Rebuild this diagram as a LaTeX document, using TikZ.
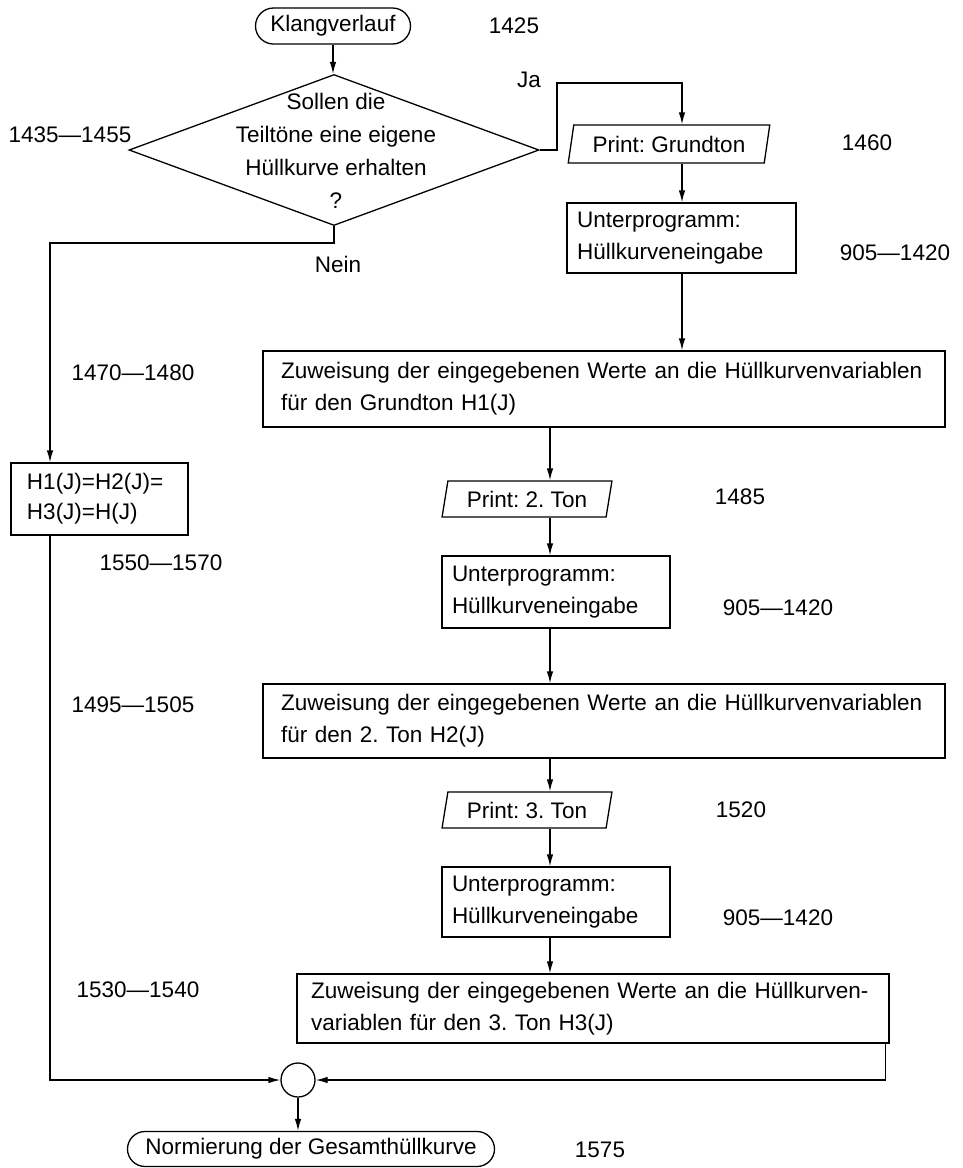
\documentclass[tikz,border=0pt]{standalone}
\usepackage{fontspec}
\setmainfont{Liberation Sans}
\usetikzlibrary{shapes.geometric,shapes.misc,arrows.meta,calc}
\frenchspacing

\begin{document}
\begin{tikzpicture}[x=1pt,y=-1pt,
  every node/.style={font=\fontsize{22.5}{32}\selectfont},
  lw/.style={line width=1.3pt},
  flow/.style={draw, lw, -{Latex[length=12pt,width=6.5pt]}},
  terminal/.style={draw, lw, rounded rectangle, inner sep=0pt},
  decision/.style={draw, lw, diamond, inner sep=0pt},
  iobox/.style={draw, lw, trapezium, trapezium left angle=75, trapezium right angle=105,
    trapezium stretches=true, inner sep=0pt},
  procbox/.style={draw, lw, rectangle, align=left, inner ysep=0pt},
  junction/.style={draw, lw, circle, inner sep=0pt, minimum size=34pt},
  lineno/.style={inner sep=0pt},
]
\useasboundingbox (0,0) rectangle (962,1168);

% column positions of the two vertical flows
\coordinate (colA) at (682,0);
\coordinate (colB) at (550,0);

% start and decision
\node[terminal, minimum width=155pt, minimum height=36pt] (start) at (333,26) {Klangverlauf};
\node[decision, minimum width=410pt, minimum height=151pt] (q) at (334,150) {};
\node[align=center, inner sep=0pt, font=\fontsize{22.5}{33}\selectfont] (qtext) at (336,151)
  {Sollen die\\Teiltöne eine eigene\\Hüllkurve erhalten\\?};

% branch "Ja": three partial tones
\node[iobox, minimum width=202pt, minimum height=38pt] (p1) at (669,144) {Print: Grundton};
\node[procbox, text width=209pt, inner xsep=10pt, minimum height=70pt] (u1) at (681.5,238)
  {Unterprogramm:\\Hüllkurveneingabe};
\node[procbox, text width=646pt, inner xsep=18pt, minimum height=76pt] (z1) at (604,389)
  {Zuweisung der eingegebenen Werte an die Hüllkurvenvariablen\\für den Grundton H1(J)};

\node[iobox, minimum width=170pt, minimum height=36pt] (p2) at (527,499) {Print: 2. Ton};
\node[procbox, text width=208pt, inner xsep=10pt, minimum height=72pt] (u2) at (556,592)
  {Unterprogramm:\\Hüllkurveneingabe};
\node[procbox, text width=646pt, inner xsep=18pt, minimum height=74pt] (z2) at (604,721)
  {Zuweisung der eingegebenen Werte an die Hüllkurvenvariablen\\für den 2. Ton H2(J)};

\node[iobox, minimum width=170pt, minimum height=36pt] (p3) at (527,810) {Print: 3. Ton};
\node[procbox, text width=208pt, inner xsep=10pt, minimum height=70pt] (u3) at (556,902)
  {Unterprogramm:\\Hüllkurveneingabe};
\node[procbox, text width=564pt, inner xsep=14pt, minimum height=69pt] (z3) at (593,1008.5)
  {Zuweisung der eingegebenen Werte an die Hüllkurven-\\variablen für den 3. Ton H3(J)};

% branch "Nein": one common envelope
\node[procbox, text width=145pt, inner xsep=16pt, minimum height=72pt,
  font=\fontsize{22.5}{30}\selectfont] (h) at (99.5,499) {H1(J)=H2(J)=\\H3(J)=H(J)};

% merge and end
\node[junction] (join) at (298,1080) {};
\node[terminal, minimum width=367pt, minimum height=35pt] (end) at (311,1149)
  {Normierung der Gesamthüllkurve};

% program line numbers
\node[lineno] (n1425) at (514,26) {1425};
\node[lineno] (n1435) at (70,135) {1435—1455};
\node[lineno] (n1460) at (867,143) {1460};
\node[lineno] (n905a) at (895,253) {905—1420};
\node[lineno] (n1470) at (133,373) {1470—1480};
\node[lineno] (n1550) at (161,563) {1550—1570};
\node[lineno] (n1485) at (740,497) {1485};
\node[lineno] (n905b) at (778,608) {905—1420};
\node[lineno] (n1495) at (133,705) {1495—1505};
\node[lineno] (n1520) at (741,810) {1520};
\node[lineno] (n905c) at (778,918) {905—1420};
\node[lineno] (n1530) at (138,990) {1530—1540};
\node[lineno] (n1575) at (600,1150) {1575};

% branch labels
\node[lineno] (ja) at (529,80) {Ja};
\node[lineno] (nein) at (338,264) {Nein};

% connectors
\coordinate (jaknee) at (557,83);
\coordinate (neinknee) at (50,243);
\coordinate (z3out) at ($(z3.south east)+(-4,0)$);

\draw[flow] (start.south) -- (start.south |- q.north);
\draw[flow] (q.east) -| (jaknee) -| (p1.north -| colA);
\draw[flow] (p1.south -| colA) -- (u1.north -| colA);
\draw[flow] (u1.south -| colA) -- (z1.north -| colA);
\draw[flow] (z1.south -| colB) -- (p2.north -| colB);
\draw[flow] (p2.south -| colB) -- (u2.north -| colB);
\draw[flow] (u2.south -| colB) -- (z2.north -| colB);
\draw[flow] (z2.south -| colB) -- (p3.north -| colB);
\draw[flow] (p3.south -| colB) -- (u3.north -| colB);
\draw[flow] (u3.south -| colB) -- (z3.north -| colB);

\draw[flow] (q.south) |- (neinknee) -- (h.north -| neinknee);
\draw[flow] (h.south -| neinknee) |- (join.west);
\draw[flow] (z3out) |- (join.east);
\draw[flow] (join.south) -- (join.south |- end.north);
\end{tikzpicture}
\end{document}
